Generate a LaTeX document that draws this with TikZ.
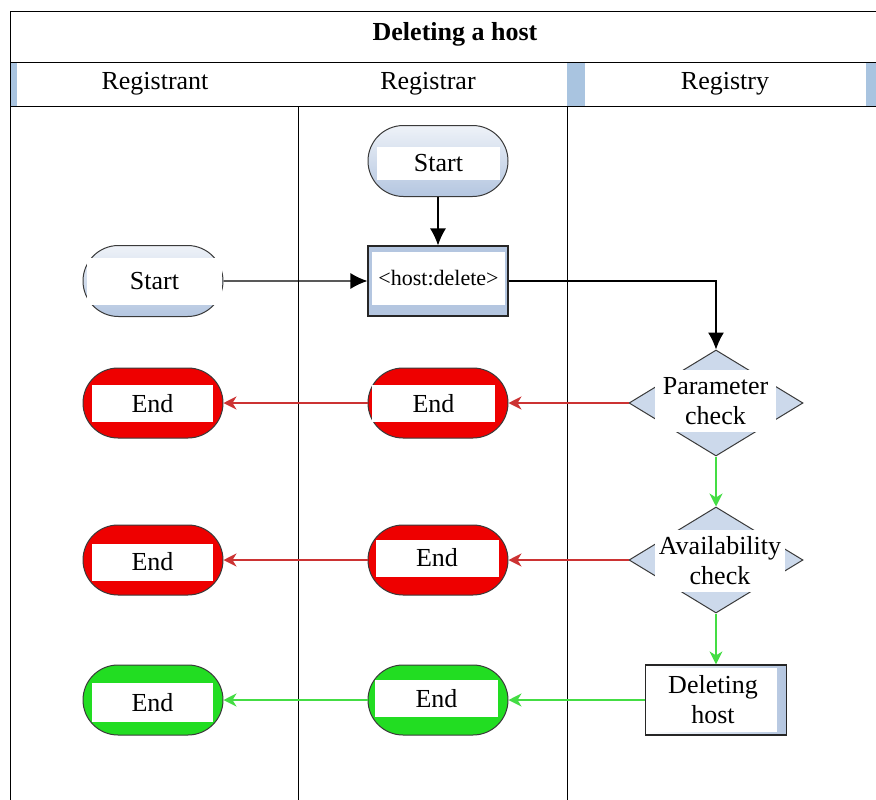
\documentclass[tikz,border=0pt]{standalone}
\usepackage{fontspec}
\setmainfont{Liberation Serif}
\usetikzlibrary{shapes.misc,shapes.geometric,arrows.meta}
\definecolor{hdrblue}{HTML}{A9C4E0}
\definecolor{shapeblue}{HTML}{B4C6E0}
\definecolor{lightblue}{HTML}{EEF2F8}
\definecolor{diamblue}{HTML}{CCD9EB}
\definecolor{endred}{HTML}{EE0000}
\definecolor{endgreen}{HTML}{22DD22}
\definecolor{arrred}{HTML}{CC3333}
\definecolor{arrgreen}{HTML}{44DD44}
\definecolor{edgegray}{HTML}{3A3A3A}
\tikzset{
  txt/.style={font=\fontsize{26}{30}\selectfont},
  lbl/.style={txt, fill=white, inner sep=0pt, align=center},
  startstad/.style={rounded rectangle, draw=edgegray, line width=1pt, top color=lightblue, bottom color=shapeblue, minimum width=140pt, minimum height=71pt, inner sep=0pt},
  redstad/.style={rounded rectangle, draw=edgegray, line width=1pt, fill=endred, minimum width=140pt, minimum height=70pt, inner sep=0pt},
  greenstad/.style={rounded rectangle, draw=edgegray, line width=1pt, fill=endgreen, minimum width=140pt, minimum height=70pt, inner sep=0pt},
  procbox/.style={rectangle, draw=black!85, line width=1.2pt, fill=shapeblue, inner sep=0pt},
  decision/.style={diamond, draw=edgegray, line width=1pt, fill=diamblue, inner sep=0pt, minimum width=174pt, minimum height=106pt},
  blackarrow/.style={draw=black, line width=1.2pt, -{Latex[length=17pt,width=16pt]}},
  redarrow/.style={draw=arrred, line width=1.3pt, -{Stealth[length=13pt,width=13pt,inset=4pt]}},
  greenarrow/.style={draw=arrgreen, line width=1.5pt, -{Stealth[length=13pt,width=13pt,inset=4pt]}},
  laneline/.style={draw=black, line width=1pt},
}
\begin{document}
\begin{tikzpicture}[x=1pt,y=-1pt]
\useasboundingbox (0,0) rectangle (876,800);
\fill[white] (0,0) rectangle (876,800);
% header
\fill[hdrblue] (10,63) rectangle (17,106);
\fill[hdrblue] (567,63) rectangle (585,106);
\fill[hdrblue] (866,63) rectangle (876,106);
\draw[laneline] (10,12) -- (876,12);
\draw[laneline] (10,63) -- (876,63);
\draw[laneline] (10,106) -- (876,106);
\draw[laneline] (10,12) -- (10,800);
\draw[laneline] (298,106) -- (298,800);
\draw[laneline] (567,106) -- (567,800);
\node[txt, font=\fontsize{26}{30}\selectfont\bfseries] (title) at (455,34) {Deleting a host};
\node[txt, font=\fontsize{26}{30}\selectfont] (h1) at (155,84) {Registrant};
\node[txt, font=\fontsize{26}{30}\selectfont] (h2) at (428,84) {Registrar};
\node[txt, font=\fontsize{26}{30}\selectfont] (h3) at (725,84) {Registry};
% shapes
\node[startstad] (s2) at (438,161) {};
\node[lbl, minimum width=123pt, minimum height=33pt] (s2l) at (438.5,163) {Start};
\node[procbox, minimum width=140pt, minimum height=70pt] (hd) at (438,281) {};
\node[lbl, minimum width=133pt, minimum height=53pt, font=\fontsize{22}{26}\selectfont] (hdl) at (438.5,278) {<host:delete>};
\node[startstad] (s1) at (153,281) {};
\node[lbl, minimum width=135pt, minimum height=47pt] (s1l) at (154.5,281.5) {Start};
\node[decision] (pc) at (716,403) {};
\node[lbl, minimum width=121pt, minimum height=62pt] (pcl) at (715.5,401) {Parameter\\check};
\node[decision] (ac) at (716,560) {};
\node[lbl, minimum width=130pt, minimum height=62pt] (acl) at (720,561) {Availability\\check};
\node[procbox, minimum width=141pt, minimum height=70pt, left color=white, right color=shapeblue] (dh) at (716,700) {};
\node[lbl, minimum width=128pt, minimum height=64pt] (dhl) at (713,700) {Deleting\\host};
\node[redstad] (e11) at (153,403) {};
\node[lbl, minimum width=121pt, minimum height=37pt] (e11l) at (152.5,403.5) {End};
\node[redstad] (e12) at (438,403) {};
\node[lbl, minimum width=123pt, minimum height=37pt] (e12l) at (433.5,403.5) {End};
\node[redstad] (e21) at (153,560) {};
\node[lbl, minimum width=121pt, minimum height=37pt] (e21l) at (152.5,562) {End};
\node[redstad] (e22) at (438,560) {};
\node[lbl, minimum width=123pt, minimum height=37pt] (e22l) at (437,558) {End};
\node[greenstad] (e31) at (153,700) {};
\node[lbl, minimum width=121pt, minimum height=39pt] (e31l) at (152.5,702.5) {End};
\node[greenstad] (e32) at (438,700) {};
\node[lbl, minimum width=123pt, minimum height=37pt] (e32l) at (436.5,698.5) {End};
% connectors
\draw[blackarrow] (s2) -- (hd);
\draw[blackarrow] (s1) -- (hd);
\draw[blackarrow] (hd.east) -| (pc.north);
\draw[redarrow] (pc.west) -- (e12.east);
\draw[redarrow] (e12.west) -- (e11.east);
\draw[greenarrow] (pc.south) -- (ac.north);
\draw[redarrow] (ac.west) -- (e22.east);
\draw[redarrow] (e22.west) -- (e21.east);
\draw[greenarrow] (ac.south) -- (dh.north);
\draw[greenarrow] (dh.west) -- (e32.east);
\draw[greenarrow] (e32.west) -- (e31.east);
\end{tikzpicture}
\end{document}
